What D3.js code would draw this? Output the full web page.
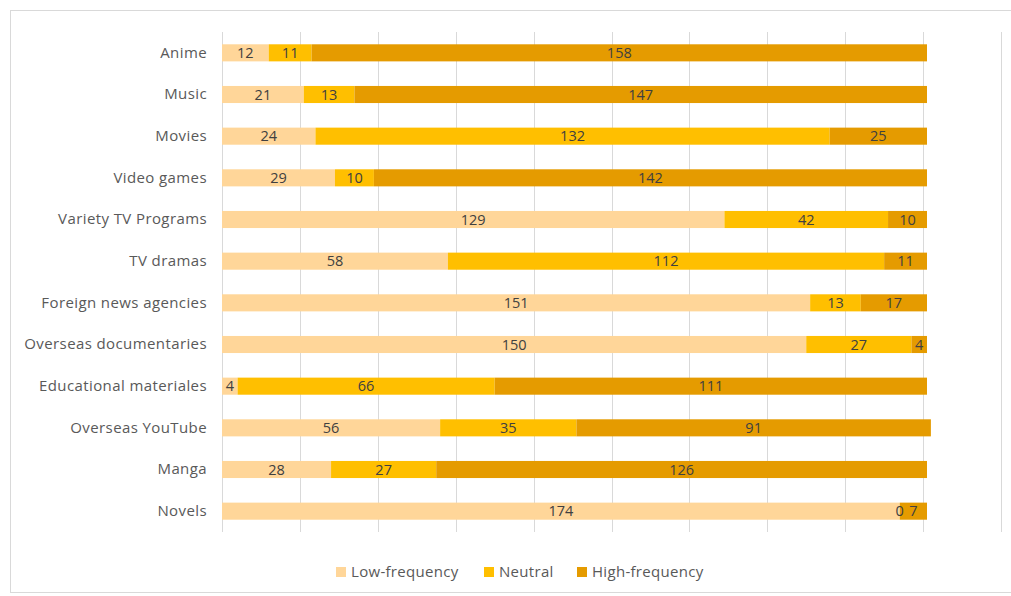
<!DOCTYPE html>
<html>
<head>
<meta charset="utf-8">
<script src="https://cdn.jsdelivr.net/npm/d3@7"></script>
<style>
  body { margin: 0; background: #fff; }
  svg text { font-family: "Open Sans", Lato, sans-serif; }
</style>
</head>
<body>
<div id="chart"></div>
<script>
// categories, top to bottom
var categories = ["Anime", "Music", "Movies", "Video games", "Variety TV Programs", "TV dramas",
  "Foreign news agencies", "Overseas documentaries", "Educational materiales", "Overseas YouTube",
  "Manga", "Novels"];

var lowFreq  = [12, 21, 24, 29, 129, 58, 151, 150, 4, 56, 28, 174];
var neutral  = [11, 13, 132, 10, 42, 112, 13, 27, 66, 35, 27, 0];
var highFreq = [158, 147, 25, 142, 10, 11, 17, 4, 111, 91, 126, 7];

var seriesNames = ["Low-frequency", "Neutral", "High-frequency"];
var seriesColors = ["#FFD699", "#FFBF00", "#E59B00"];
var xTicks = [0, 20, 40, 60, 80, 100, 120, 140, 160, 180, 200];

var svgWidth = 1011;
var svgHeight = 596;

var chartMargin = { top: 32, right: 10, bottom: 64, left: 222 };
var width = 1001 - chartMargin.left;
var height = svgHeight - chartMargin.top - chartMargin.bottom;

var svg = d3.select("#chart")
  .append("svg")
  .attr("width", svgWidth)
  .attr("height", svgHeight);

// outer frame
svg.append("rect")
  .attr("x", 10.5).attr("y", 10.5)
  .attr("width", 1010).attr("height", 582)
  .attr("fill", "none")
  .attr("stroke", "#D9D9D9");

var chartGroup = svg.append("g")
  .attr("transform", `translate(${chartMargin.left}, ${chartMargin.top})`);

// build rows for the stack
var rows = categories.map(function(c, i) {
  return { cat: c, low: lowFreq[i], neu: neutral[i], high: highFreq[i] };
});
var keys = ["low", "neu", "high"];
var stacked = d3.stack().keys(keys)(rows);

var xScale = d3.scaleLinear().domain([0, 200]).range([0, width]);
var yScale = d3.scaleBand().domain(categories).range([0, height]).paddingInner(0.59).paddingOuter(0.295);

// gridlines
chartGroup.append("g")
  .selectAll("line")
  .data(xTicks)
  .enter()
  .append("line")
  .attr("x1", d => Math.round(xScale(d)) + 0.5)
  .attr("x2", d => Math.round(xScale(d)) + 0.5)
  .attr("y1", 0)
  .attr("y2", height)
  .attr("stroke", "#D9D9D9")
  .attr("stroke-width", 1);

// category axis
var leftAxis = d3.axisLeft(yScale).tickSize(0).tickPadding(15);
var yAxis = chartGroup.append("g").call(leftAxis);
yAxis.select(".domain").remove();
yAxis.selectAll("text")
  .attr("fill", "#595959")
  .attr("font-size", "15px")
  .attr("letter-spacing", "0.4px")
  .style("font-family", "'Open Sans', Lato, sans-serif");

// bars
var layers = chartGroup.selectAll(".layer")
  .data(stacked)
  .enter()
  .append("g")
  .attr("class", "layer")
  .attr("fill", (d, i) => seriesColors[i]);

layers.selectAll("rect")
  .data(d => d)
  .enter()
  .append("rect")
  .attr("x", d => xScale(d[0]))
  .attr("y", d => yScale(d.data.cat))
  .attr("width", d => xScale(d[1]) - xScale(d[0]))
  .attr("height", yScale.bandwidth());

// data labels (drawn after all bars so the zero label stays visible)
var labelGroup = chartGroup.append("g");
stacked.forEach(function(layer) {
  labelGroup.selectAll(null)
    .data(layer)
    .enter()
    .append("text")
    .attr("x", d => (xScale(d[0]) + xScale(d[1])) / 2)
    .attr("y", d => yScale(d.data.cat) + yScale.bandwidth() / 2)
    .attr("dy", "0.36em")
    .attr("text-anchor", "middle")
    .attr("font-size", "14.5px")
    .attr("fill", "#404040")
    .text(d => d[1] - d[0]);
});

// legend
var legendX = [336, 484, 577];
var legend = svg.append("g")
  .attr("transform", "translate(0, 572)");

var legendItems = legend.selectAll("g")
  .data(seriesNames)
  .enter()
  .append("g")
  .attr("transform", (d, i) => `translate(${legendX[i]}, 0)`);

legendItems.append("rect")
  .attr("x", 0)
  .attr("y", -5)
  .attr("width", 10)
  .attr("height", 10)
  .attr("fill", (d, i) => seriesColors[i]);

legendItems.append("text")
  .attr("x", 15)
  .attr("y", 0)
  .attr("dy", "0.36em")
  .attr("font-size", "15px")
  .attr("letter-spacing", "0.3px")
  .attr("fill", "#595959")
  .text(d => d);
</script>
</body>
</html>
